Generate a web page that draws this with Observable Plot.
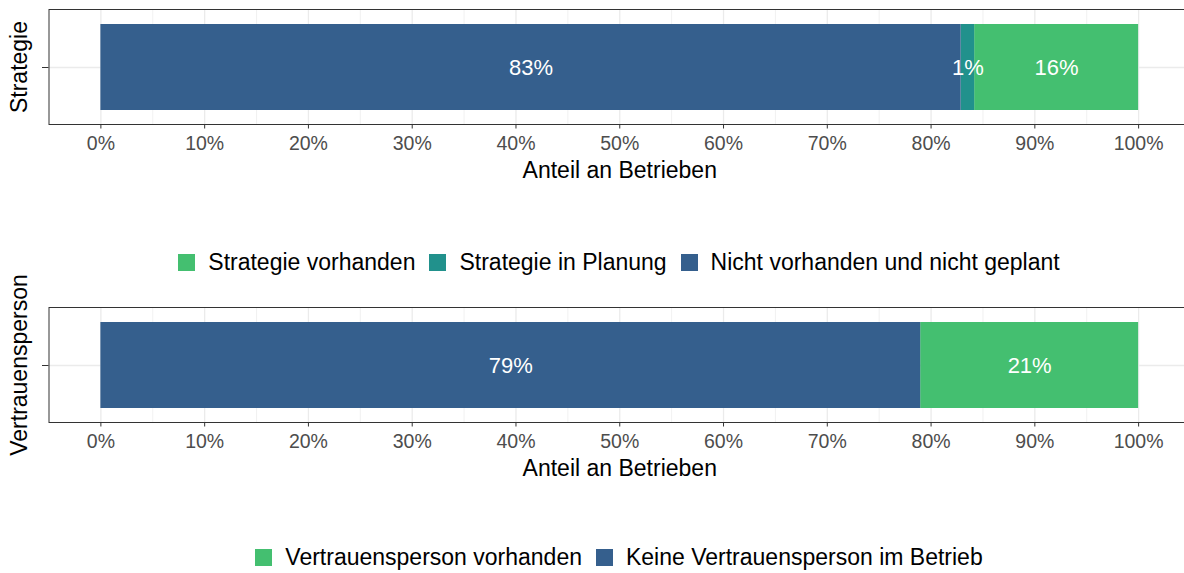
<!DOCTYPE html>
<html>
<head>
<meta charset="utf-8">
<script src="https://cdn.jsdelivr.net/npm/d3@7"></script>
<script src="https://cdn.jsdelivr.net/npm/@observablehq/plot@0.6"></script>
<style>
  html, body { margin: 0; padding: 0; background: #fff; }
  body { width: 1184px; height: 573px; overflow: hidden; position: relative; font-family: "Liberation Sans", Arial, sans-serif; }
  .panel { position: absolute; left: 0; width: 1190px; }
  .legend { position: absolute; left: 0; width: 1238px; display: flex; justify-content: center; align-items: center;
            font-size: 23px; line-height: 23px; color: #000; white-space: nowrap; }
  .legend .sw { width: 17px; height: 17px; margin-right: 13px; flex: none; }
  .legend .lab { margin-right: 14px; }
  .legend .lab:last-child { margin-right: 0; }
</style>
</head>
<body>
<div id="p1" class="panel" style="top:0px"></div>
<div id="l1" class="legend" style="top:251px"></div>
<div id="p2" class="panel" style="top:298px"></div>
<div id="l2" class="legend" style="top:546px"></div>
<script>
// ---- data ----
const strategieCategory = "Strategie";
const strategieGroups = ["Strategie vorhanden", "Strategie in Planung", "Nicht vorhanden und nicht geplant"];
const strategieValues = [15.8, 1.3, 82.9];
const strategieColors = ["#44bf70", "#21918c", "#355f8d"];

const vertrauenCategory = "Vertrauensperson";
const vertrauenGroups = ["Vertrauensperson vorhanden", "Keine Vertrauensperson im Betrieb"];
const vertrauenValues = [21, 79];
const vertrauenColors = ["#44bf70", "#355f8d"];

const majorTicks = [0, 10, 20, 30, 40, 50, 60, 70, 80, 90, 100];
const minorTicks = [5, 15, 25, 35, 45, 55, 65, 75, 85, 95];
const xTitle = "Anteil an Betrieben";

function panel(category, groups, values, colors) {
  const data = groups.map((g, i) => ({cat: category, group: g, value: values[i]}));
  const order = groups.slice().reverse();
  return Plot.plot({
    width: 1190,
    height: 190,
    marginLeft: 48.5,
    marginRight: 0,
    marginTop: 9,
    marginBottom: 66,
    style: {maxWidth: "none", overflow: "visible", fontFamily: "'Liberation Sans', Arial, sans-serif", background: "transparent"},
    x: {domain: [-5, 105]},
    y: {domain: [category], padding: 0.143},
    color: {domain: groups, range: colors},
    marks: [
      Plot.ruleX(minorTicks, {stroke: "#ebebeb", strokeWidth: 0.7}),
      Plot.ruleX(majorTicks, {stroke: "#ebebeb", strokeWidth: 1.3}),
      Plot.ruleY([category], {y: d => d, stroke: "#ebebeb", strokeWidth: 1.3}),
      Plot.barX(data, {x: "value", y: "cat", fill: "group", z: "group", order}),
      Plot.textX(data, Plot.stackX({x: "value", y: "cat", z: "group", order,
        text: d => Math.round(d.value) + "%", fill: "white", fontSize: 22})),
      Plot.frame({stroke: "#333", strokeWidth: 1}),
      Plot.axisX({ticks: majorTicks, tickFormat: d => d + "%", tickSize: 4.5, tickPadding: 7.5,
        fontSize: 19.5, fill: "#4d4d4d", stroke: "#333", label: null}),
      Plot.axisY({tickSize: 6.5, tickFormat: () => "", stroke: "#333", label: null}),
      Plot.text([xTitle], {frameAnchor: "bottom", lineAnchor: "middle", textAnchor: "middle", dy: 46, fontSize: 23, fill: "#000"}),
      Plot.text([category], {frameAnchor: "left", lineAnchor: "middle", textAnchor: "middle", rotate: -90, dx: -29, fontSize: 23, fill: "#000"})
    ]
  });
}

function legend(el, groups, colors) {
  groups.forEach((g, i) => {
    const sw = document.createElement("span");
    sw.className = "sw";
    sw.style.background = colors[i];
    const lab = document.createElement("span");
    lab.className = "lab";
    lab.textContent = g;
    el.appendChild(sw);
    el.appendChild(lab);
  });
}

document.getElementById("p1").appendChild(panel(strategieCategory, strategieGroups, strategieValues, strategieColors));
legend(document.getElementById("l1"), strategieGroups, strategieColors);
document.getElementById("p2").appendChild(panel(vertrauenCategory, vertrauenGroups, vertrauenValues, vertrauenColors));
legend(document.getElementById("l2"), vertrauenGroups, vertrauenColors);
</script>
</body>
</html>
